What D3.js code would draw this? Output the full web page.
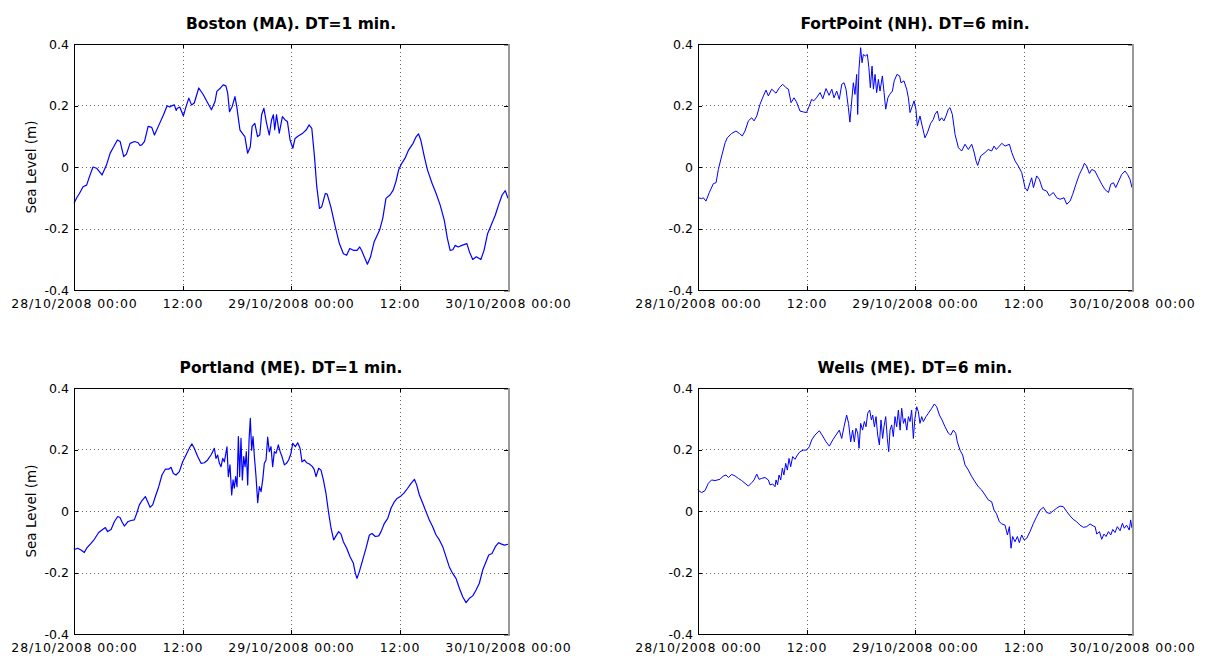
<!DOCTYPE html>
<html>
<head>
<meta charset="utf-8">
<script src="https://cdn.jsdelivr.net/npm/d3@7"></script>
<style>
  html, body { margin: 0; padding: 0; background: #fff; }
  svg { display: block; }
  .tick text { font-family: "DejaVu Sans", sans-serif; font-size: 12.5px; fill: #000; }
  .xax .tick text { letter-spacing: 0.9px; }
  .title { font-family: "DejaVu Sans", sans-serif; font-weight: 700; font-size: 15.5px; fill: #000; }
  .ylab { font-family: "DejaVu Sans", sans-serif; font-size: 13.5px; fill: #000; }
</style>
</head>
<body>
<svg id="chart" width="1206" height="656"></svg>
<script>
// ---------------- DATA (hours since 28/10/2008 00:00, sea level in m) ----------------
const titles = ["Boston (MA). DT=1 min.", "FortPoint (NH). DT=6 min.", "Portland (ME). DT=1 min.", "Wells (ME). DT=6 min."];
const xTickHours = [0, 12, 24, 36, 48];
const xTickLabels = ["28/10/2008 00:00", "12:00", "29/10/2008 00:00", "12:00", "30/10/2008 00:00"];
const yTicks = [-0.4, -0.2, 0, 0.2, 0.4];
const yTickLabels = ["-0.4", "-0.2", "0", "0.2", "0.4"];
const yLabel = "Sea Level (m)";

const boston = [[0,-0.118],[0.3,-0.100],[0.6,-0.086],[1.0,-0.064],[1.4,-0.059],[1.7,-0.032],[2.1,0.000],[2.5,-0.004],[3.1,-0.026],[3.6,0.007],[4.0,0.045],[4.3,0.061],[4.8,0.088],[5.1,0.083],[5.5,0.034],[5.8,0.042],[6.2,0.077],[6.7,0.083],[7.1,0.079],[7.3,0.070],[7.5,0.072],[7.8,0.083],[8.2,0.132],[8.6,0.129],[8.9,0.104],[9.4,0.137],[9.9,0.170],[10.3,0.199],[10.6,0.195],[10.8,0.199],[11.1,0.202],[11.3,0.184],[11.4,0.190],[11.7,0.195],[12.1,0.166],[12.4,0.197],[12.7,0.224],[13.0,0.202],[13.3,0.208],[13.8,0.257],[14.3,0.235],[14.7,0.213],[15.2,0.186],[15.6,0.213],[15.8,0.246],[16.2,0.257],[16.5,0.267],[16.8,0.264],[17.0,0.240],[17.2,0.180],[17.5,0.197],[17.8,0.229],[18.0,0.197],[18.2,0.153],[18.35,0.121],[18.6,0.110],[18.9,0.099],[19.2,0.045],[19.5,0.066],[19.7,0.132],[20.0,0.142],[20.3,0.099],[20.55,0.104],[20.75,0.170],[21.0,0.191],[21.3,0.142],[21.6,0.104],[21.85,0.153],[22.05,0.170],[22.2,0.121],[22.4,0.170],[22.7,0.110],[23.05,0.164],[23.35,0.153],[23.6,0.148],[23.9,0.088],[24.2,0.061],[24.45,0.093],[24.8,0.101],[25.3,0.110],[25.7,0.121],[26.0,0.137],[26.3,0.126],[26.6,0.033],[26.85,-0.064],[27.15,-0.135],[27.4,-0.129],[27.8,-0.086],[28.0,-0.088],[28.4,-0.129],[28.9,-0.195],[29.35,-0.249],[29.8,-0.282],[30.15,-0.287],[30.5,-0.265],[30.9,-0.271],[31.3,-0.271],[31.6,-0.260],[31.8,-0.271],[32.1,-0.292],[32.45,-0.316],[32.8,-0.292],[33.2,-0.243],[33.8,-0.205],[34.15,-0.167],[34.5,-0.102],[34.95,-0.091],[35.3,-0.075],[35.6,-0.048],[35.9,-0.010],[36.25,0.012],[36.6,0.028],[37.0,0.055],[37.5,0.077],[37.85,0.099],[38.1,0.108],[38.35,0.088],[38.75,0.033],[39.1,-0.010],[39.6,-0.053],[40.05,-0.086],[40.5,-0.124],[40.95,-0.173],[41.3,-0.233],[41.6,-0.271],[41.9,-0.269],[42.15,-0.255],[42.5,-0.260],[42.9,-0.255],[43.45,-0.249],[43.75,-0.277],[44.1,-0.301],[44.5,-0.292],[45.0,-0.301],[45.35,-0.271],[45.75,-0.216],[46.1,-0.192],[46.6,-0.156],[46.95,-0.124],[47.35,-0.091],[47.7,-0.077],[48.0,-0.102]];

const fortPoint = [[0,-0.098],[0.07,-0.100],[0.4,-0.103],[0.59,-0.100],[0.88,-0.111],[1.25,-0.083],[1.7,-0.054],[2.0,-0.051],[2.25,-0.008],[2.62,0.036],[3.0,0.079],[3.24,0.095],[3.72,0.109],[4.2,0.117],[4.57,0.109],[4.9,0.101],[5.2,0.117],[5.57,0.150],[5.94,0.160],[6.2,0.150],[6.5,0.166],[6.86,0.204],[7.23,0.231],[7.52,0.250],[7.78,0.231],[8.15,0.253],[8.63,0.240],[9.0,0.258],[9.37,0.269],[9.73,0.258],[10.0,0.253],[10.29,0.209],[10.62,0.225],[10.9,0.211],[11.28,0.182],[11.65,0.179],[12.0,0.177],[12.3,0.198],[12.57,0.220],[12.8,0.215],[13.1,0.225],[13.5,0.242],[13.8,0.222],[14.16,0.255],[14.5,0.233],[14.8,0.253],[15.04,0.225],[15.34,0.247],[15.63,0.220],[15.9,0.269],[16.15,0.274],[16.37,0.253],[16.63,0.193],[16.8,0.146],[17.0,0.215],[17.18,0.274],[17.36,0.236],[17.55,0.301],[17.66,0.171],[17.8,0.318],[17.99,0.388],[18.14,0.339],[18.29,0.366],[18.51,0.361],[18.73,0.366],[18.9,0.323],[19.06,0.258],[19.25,0.328],[19.4,0.253],[19.58,0.301],[19.76,0.242],[19.95,0.285],[20.13,0.247],[20.39,0.296],[20.58,0.242],[20.76,0.188],[21.0,0.225],[21.2,0.236],[21.5,0.247],[21.7,0.280],[22.0,0.301],[22.3,0.296],[22.45,0.274],[22.78,0.280],[23.08,0.253],[23.27,0.225],[23.45,0.177],[23.7,0.198],[23.9,0.215],[24.1,0.188],[24.26,0.133],[24.55,0.166],[24.8,0.133],[25.1,0.095],[25.37,0.111],[25.73,0.142],[26.03,0.155],[26.2,0.171],[26.47,0.182],[26.7,0.150],[26.95,0.160],[27.2,0.150],[27.43,0.166],[27.69,0.188],[27.87,0.193],[28.13,0.171],[28.43,0.106],[28.8,0.063],[29.16,0.052],[29.53,0.074],[29.9,0.057],[30.27,0.074],[30.5,0.052],[30.75,0.020],[30.93,0.005],[31.27,0.036],[31.75,0.047],[32.1,0.057],[32.48,0.052],[32.74,0.068],[33.0,0.057],[33.6,0.077],[33.96,0.068],[34.44,0.074],[34.7,0.047],[35.06,0.020],[35.43,0.003],[35.8,-0.018],[36.17,-0.067],[36.43,-0.078],[36.72,-0.051],[36.9,-0.035],[37.1,-0.067],[37.46,-0.029],[37.75,-0.040],[38.12,-0.073],[38.56,-0.078],[38.86,-0.094],[39.3,-0.083],[39.67,-0.100],[40.04,-0.105],[40.48,-0.100],[40.78,-0.121],[41.15,-0.111],[41.44,-0.089],[41.8,-0.056],[42.18,-0.024],[42.55,-0.002],[42.73,0.012],[42.99,0.003],[43.29,-0.021],[43.55,-0.008],[43.9,-0.013],[44.28,-0.035],[44.65,-0.056],[45.0,-0.073],[45.4,-0.083],[45.65,-0.056],[45.95,-0.051],[46.2,-0.067],[46.45,-0.051],[46.86,-0.024],[47.23,-0.013],[47.5,-0.024],[47.78,-0.040],[48.0,-0.067]];

const portland = [[0,-0.122],[0.07,-0.125],[0.4,-0.121],[0.77,-0.127],[1.14,-0.135],[1.4,-0.121],[1.88,-0.105],[2.25,-0.092],[2.73,-0.070],[3.17,-0.060],[3.47,-0.054],[3.72,-0.067],[4.1,-0.060],[4.46,-0.035],[4.83,-0.018],[5.09,-0.021],[5.3,-0.035],[5.57,-0.049],[5.94,-0.035],[6.3,-0.031],[6.67,-0.029],[6.93,-0.008],[7.23,0.020],[7.52,0.034],[7.89,0.047],[8.15,0.030],[8.41,0.012],[8.7,0.020],[9.0,0.047],[9.37,0.079],[9.73,0.117],[10.1,0.136],[10.47,0.136],[10.73,0.142],[10.99,0.122],[11.28,0.117],[11.65,0.128],[12.02,0.160],[12.39,0.182],[12.83,0.209],[13.05,0.218],[13.3,0.204],[13.68,0.177],[14.05,0.155],[14.42,0.157],[14.78,0.166],[15.15,0.182],[15.34,0.193],[15.52,0.204],[15.7,0.171],[15.89,0.182],[16.08,0.155],[16.26,0.144],[16.45,0.171],[16.63,0.160],[16.8,0.188],[16.92,0.209],[17.07,0.112],[17.25,0.150],[17.44,0.052],[17.59,0.101],[17.73,0.074],[17.88,0.112],[18.03,0.079],[18.18,0.242],[18.32,0.112],[18.47,0.236],[18.62,0.101],[18.77,0.177],[18.92,0.144],[19.06,0.193],[19.21,0.085],[19.36,0.231],[19.5,0.301],[19.65,0.198],[19.8,0.242],[19.95,0.177],[20.13,0.112],[20.32,0.027],[20.5,0.079],[20.69,0.063],[20.87,0.101],[21.05,0.155],[21.24,0.166],[21.42,0.240],[21.6,0.193],[21.79,0.209],[21.97,0.144],[22.16,0.193],[22.35,0.188],[22.6,0.215],[22.8,0.193],[23.0,0.177],[23.27,0.150],[23.5,0.155],[23.74,0.166],[24.0,0.188],[24.19,0.220],[24.48,0.209],[24.74,0.222],[25.0,0.204],[25.22,0.160],[25.48,0.166],[25.73,0.157],[26.03,0.153],[26.32,0.146],[26.55,0.136],[26.77,0.112],[27.06,0.139],[27.32,0.133],[27.58,0.101],[27.87,0.057],[28.17,-0.008],[28.43,-0.056],[28.72,-0.094],[28.98,-0.081],[29.27,-0.067],[29.53,-0.075],[29.79,-0.100],[30.16,-0.121],[30.53,-0.149],[30.9,-0.170],[31.12,-0.203],[31.3,-0.219],[31.56,-0.197],[31.93,-0.159],[32.3,-0.121],[32.67,-0.078],[32.96,-0.073],[33.33,-0.083],[33.7,-0.081],[33.96,-0.067],[34.33,-0.040],[34.7,-0.024],[35.06,0.009],[35.43,0.030],[35.73,0.041],[36.17,0.049],[36.54,0.060],[36.9,0.074],[37.28,0.090],[37.65,0.103],[37.9,0.085],[38.2,0.052],[38.57,0.025],[38.93,-0.002],[39.3,-0.029],[39.67,-0.051],[40.04,-0.078],[40.41,-0.094],[40.78,-0.116],[41.15,-0.149],[41.5,-0.181],[41.88,-0.203],[42.25,-0.219],[42.62,-0.251],[42.99,-0.279],[43.36,-0.298],[43.73,-0.284],[44.1,-0.276],[44.47,-0.257],[44.83,-0.235],[45.2,-0.192],[45.57,-0.165],[45.87,-0.143],[46.23,-0.138],[46.6,-0.116],[46.97,-0.103],[47.23,-0.107],[47.6,-0.111],[48.0,-0.108]];

const wells = [[0,0.070],[0.07,0.066],[0.4,0.060],[0.77,0.066],[1.14,0.090],[1.5,0.101],[1.88,0.099],[2.43,0.103],[2.8,0.114],[3.1,0.117],[3.36,0.109],[3.72,0.119],[4.1,0.114],[4.46,0.106],[4.83,0.099],[5.2,0.090],[5.57,0.081],[5.94,0.092],[6.2,0.101],[6.5,0.120],[6.75,0.103],[7.04,0.106],[7.41,0.109],[7.78,0.101],[7.96,0.085],[8.26,0.088],[8.52,0.079],[8.63,0.101],[8.8,0.085],[8.96,0.117],[9.15,0.101],[9.33,0.139],[9.5,0.117],[9.7,0.155],[9.88,0.133],[10.07,0.171],[10.25,0.144],[10.47,0.177],[10.73,0.168],[10.99,0.182],[11.28,0.193],[11.65,0.198],[12.02,0.198],[12.31,0.209],[12.57,0.231],[12.94,0.247],[13.42,0.261],[13.79,0.244],[14.16,0.225],[14.53,0.211],[14.9,0.231],[15.26,0.247],[15.63,0.263],[15.89,0.236],[16.15,0.274],[16.44,0.312],[16.66,0.285],[16.89,0.225],[17.1,0.263],[17.29,0.225],[17.47,0.269],[17.66,0.253],[17.81,0.204],[17.99,0.285],[18.2,0.263],[18.4,0.291],[18.58,0.274],[18.77,0.318],[18.99,0.328],[19.18,0.296],[19.32,0.312],[19.51,0.274],[19.69,0.307],[19.87,0.247],[20.06,0.215],[20.24,0.296],[20.42,0.236],[20.57,0.274],[20.76,0.307],[20.94,0.236],[21.09,0.193],[21.24,0.263],[21.42,0.280],[21.6,0.242],[21.79,0.307],[21.97,0.274],[22.16,0.328],[22.35,0.263],[22.53,0.334],[22.72,0.285],[22.9,0.301],[23.09,0.263],[23.27,0.307],[23.45,0.291],[23.63,0.328],[23.82,0.236],[23.97,0.296],[24.19,0.339],[24.37,0.323],[24.55,0.285],[24.74,0.307],[24.92,0.291],[25.22,0.307],[25.48,0.318],[25.85,0.334],[26.14,0.348],[26.4,0.339],[26.7,0.312],[26.99,0.296],[27.32,0.274],[27.69,0.253],[27.95,0.247],[28.24,0.263],[28.5,0.253],[28.68,0.225],[28.98,0.198],[29.27,0.182],[29.53,0.150],[29.9,0.133],[30.27,0.112],[30.64,0.095],[31.0,0.079],[31.38,0.068],[31.75,0.052],[32.1,0.036],[32.48,0.030],[32.74,0.003],[33.0,-0.008],[33.33,-0.035],[33.6,-0.042],[33.96,-0.046],[34.22,-0.078],[34.44,-0.051],[34.62,-0.121],[34.8,-0.083],[35.06,-0.100],[35.32,-0.083],[35.54,-0.103],[35.8,-0.078],[36.06,-0.094],[36.35,-0.089],[36.72,-0.067],[37.1,-0.040],[37.46,-0.018],[37.83,0.003],[38.2,0.012],[38.56,-0.005],[38.93,-0.008],[39.3,0.001],[39.67,0.009],[40.04,0.016],[40.41,0.014],[40.78,-0.002],[41.15,-0.016],[41.5,-0.027],[41.88,-0.035],[42.25,-0.046],[42.62,-0.053],[42.99,-0.051],[43.36,-0.042],[43.73,-0.049],[43.92,-0.051],[44.1,-0.075],[44.4,-0.067],[44.65,-0.092],[44.9,-0.075],[45.13,-0.083],[45.4,-0.067],[45.65,-0.078],[45.87,-0.060],[46.12,-0.070],[46.38,-0.051],[46.68,-0.064],[46.94,-0.040],[47.15,-0.056],[47.4,-0.046],[47.7,-0.062],[47.85,-0.029],[48.0,-0.056]];

const seriesList = [boston, fortPoint, portland, wells];

// ---------------- LAYOUT ----------------
const svg = d3.select("#chart");
const W = 434, H = 246;
const origins = [[74, 44], [698, 44], [74, 388], [698, 388]];
const lineWidths = [1.2, 1, 1.2, 1];
const t0 = new Date(2008, 9, 28, 0, 0);
const toDate = h => new Date(t0.getTime() + h * 3600e3);

seriesList.forEach((data, i) => {
  const [ox, oy] = origins[i];
  const g = svg.append("g").attr("transform", `translate(${ox},${oy})`);
  const x = d3.scaleTime().domain([toDate(0), toDate(48)]).range([0, W]);
  const y = d3.scaleLinear().domain([-0.4, 0.4]).range([H, 0]);

  // grid
  const grid = g.append("g").attr("stroke", "#666").attr("stroke-width", 1)
    .attr("stroke-dasharray", "1,3").attr("shape-rendering", "crispEdges");
  xTickHours.slice(1, -1).forEach(h => {
    const px = Math.round(x(toDate(h))) + 0.5;
    grid.append("line").attr("x1", px).attr("x2", px).attr("y1", 0).attr("y2", H);
  });
  yTicks.slice(1, -1).forEach(v => {
    const py = Math.round(y(v)) + 0.5;
    grid.append("line").attr("x1", 0).attr("x2", W).attr("y1", py).attr("y2", py);
  });

  // line
  const line = d3.line().x(d => x(toDate(d[0]))).y(d => y(d[1]));
  g.append("path").datum(data).attr("d", line).attr("fill", "none")
    .attr("stroke", "#0000ff").attr("stroke-width", lineWidths[i]).attr("stroke-linejoin", "round");

  // axes with inward ticks
  const xAxis = d3.axisBottom(x).tickValues(xTickHours.map(toDate))
    .tickFormat((d, k) => xTickLabels[k]).tickSize(-4).tickPadding(9);
  const yAxis = d3.axisLeft(y).tickValues(yTicks)
    .tickFormat((d, k) => yTickLabels[k]).tickSize(-4).tickPadding(5);
  const gx = g.append("g").attr("class", "xax").attr("transform", `translate(0,${H})`).call(xAxis);
  const gy = g.append("g").call(yAxis);
  const gxt = g.append("g").call(d3.axisTop(x).tickValues(xTickHours.map(toDate)).tickFormat("").tickSize(-4));
  const gyr = g.append("g").attr("transform", `translate(${W},0)`).call(d3.axisRight(y).tickValues(yTicks).tickFormat("").tickSize(-4));
  [gx, gy, gxt, gyr].forEach(a => {
    a.select(".domain").attr("stroke", "#000");
    a.selectAll(".tick line").attr("stroke", "#000");
    a.attr("shape-rendering", "crispEdges");
  });
  gyr.select(".domain").attr("stroke", "#999").attr("stroke-width", 2);

  // title
  g.append("text").attr("class", "title").attr("x", W / 2).attr("y", -15)
    .attr("text-anchor", "middle").text(titles[i]);

  // y label for left column
  if (i % 2 === 0) {
    g.append("text").attr("class", "ylab")
      .attr("transform", `translate(${36 - ox},${H / 2}) rotate(-90)`)
      .attr("text-anchor", "middle").text(yLabel);
  }
});
</script>
</body>
</html>
